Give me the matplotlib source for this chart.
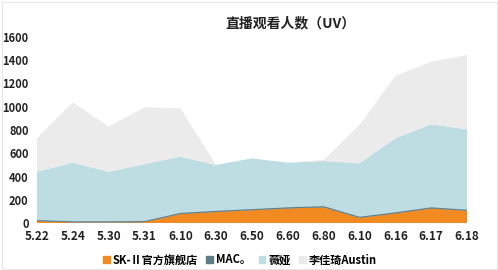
import matplotlib
matplotlib.use("Agg")
import matplotlib.pyplot as plt
import numpy as np

plt.rcParams['font.family'] = ['Noto Sans CJK SC', 'DejaVu Sans']

dates = ["5.22", "5.24", "5.30", "5.31", "6.10", "6.30", "6.50", "6.60", "6.80", "6.10", "6.16", "6.17", "6.18"]
sk2 = [17, 6, 6, 8, 77, 95, 110, 125, 135, 45, 82, 125, 105]
mac = [4, 4, 4, 4, 5, 5, 5, 5, 5, 4, 5, 5, 5]
weiya = [420, 509, 431, 495, 489, 399, 441, 389, 393, 464, 642, 719, 696]
austin = [288, 519, 388, 488, 415, 0, 0, 0, 10, 330, 536, 539, 639]
series_names = ["SK-Ⅱ官方旗舰店", "MAC。", "薇娅", "李佳琦Austin"]
colors = ["#F28A22", "#5E7D86", "#BEDDE3", "#EBEBEB"]
yticks = [0, 200, 400, 600, 800, 1000, 1200, 1400, 1600]
title = "直播观看人数（UV）"

W, H = 498, 270
fig = plt.figure(figsize=(W / 100, H / 100), dpi=100)
ax = fig.add_axes([37 / W, 1 - 223 / H, (467 - 37) / W, (223 - 37) / H])

x = np.arange(len(dates))
ax.stackplot(x, sk2, mac, weiya, austin, colors=colors, labels=series_names, linewidth=0)
ax.plot(x, np.array(sk2) + np.array(mac), color=colors[1], lw=0.8)

ax.set_xlim(0, len(dates) - 1)
ax.set_ylim(0, 1600)
ax.set_yticks(yticks)
ax.set_yticklabels([str(v) for v in yticks], fontsize=8, fontweight='bold', color='#222222')
ax.set_xticks(x)
ax.set_xticklabels(dates, fontsize=8.5, fontweight='bold', color='#222222')
ax.tick_params(axis='both', length=0)
ax.tick_params(axis='y', pad=6)
ax.tick_params(axis='x', pad=5)
for s in ax.spines.values():
    s.set_visible(False)

fig.text(290 / W, 1 - 23 / H, title, ha='center', va='center', fontsize=10, fontweight='bold', color='#222222')

handles = [plt.Rectangle((0, 0), 1, 1, color=c) for c in colors]
fig.legend(handles, series_names, loc='center', bbox_to_anchor=(240 / W, 1 - 260 / H), ncol=4,
           frameon=False, handlelength=0.6, handleheight=0.6, handletextpad=0.3,
           columnspacing=0.7, prop={'weight': 'bold', 'size': 8})

# faint outer border
fig.add_artist(plt.Rectangle((1.5 / W, 1.5 / H), 1 - 3 / W, 1 - 3 / H, transform=fig.transFigure,
                             fill=False, edgecolor='#E6E6E6', lw=0.8))

fig.savefig("out.png", dpi=100, facecolor='white')
